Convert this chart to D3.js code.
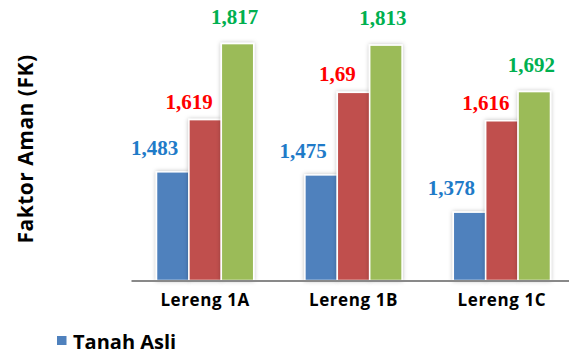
<!DOCTYPE html>
<html>
<head>
<meta charset="utf-8">
<script src="https://cdn.jsdelivr.net/npm/d3@7"></script>
<style>
  body { margin: 0; background: #fff; }
  #chart { width: 569px; height: 351px; }
</style>
</head>
<body>
<div id="chart"></div>
<script>
// data

const categories = ["Lereng 1A", "Lereng 1B", "Lereng 1C"];
const seriesNames = ["Tanah Asli", "Perkuatan 1", "Perkuatan 2"];
const tanahAsli = [1.483, 1.475, 1.378];
const perkuatan1 = [1.619, 1.69, 1.616];
const perkuatan2 = [1.817, 1.813, 1.692];
const valueLabels = [
  ["1,483", "1,475", "1,378"],
  ["1,619", "1,69", "1,616"],
  ["1,817", "1,813", "1,692"]
];

const barColors = ["#4F81BD", "#C0504D", "#9BBB59"];
const labelColors = ["#1F7BC8", "#FF0000", "#00B050"];
// label offset from the bar top centre, per series
const labelDx = [-18, -16, -3];
const labelDy = [-17, -11, -20];

const width = 569;
const height = 351;

const svg = d3.select("#chart")
  .append("svg")
  .attr("width", width)
  .attr("height", height);

// shadow filter
const defs = svg.append("defs");
const filter = defs.append("filter")
  .attr("id", "shadow")
  .attr("x", "-30%").attr("y", "-10%")
  .attr("width", "160%").attr("height", "120%");
filter.append("feDropShadow")
  .attr("dx", 0).attr("dy", 0)
  .attr("stdDeviation", 2)
  .attr("flood-color", "#000")
  .attr("flood-opacity", 0.25);

// scales

const x0 = d3.scaleBand()
  .domain(categories)
  .range([131, 576])
  .paddingInner(0.345)
  .paddingOuter(0.172);

const x1 = d3.scaleBand()
  .domain(d3.range(seriesNames.length))
  .range([0, x0.bandwidth()]);

const y = d3.scaleLinear()
  .domain([1.2, 1.9])
  .range([280.5, 11.7]);

const series = [tanahAsli, perkuatan1, perkuatan2];

// bars

const groups = svg.append("g")
  .selectAll("g")
  .data(categories)
  .join("g")
  .attr("transform", (d) => "translate(" + x0(d) + ",0)");

groups.selectAll("rect")
  .data((d, i) => series.map((s, k) => ({ k: k, v: s[i], label: valueLabels[k][i] })))
  .join("rect")
  .attr("x", (d) => x1(d.k))
  .attr("y", (d) => y(d.v))
  .attr("width", x1.bandwidth())
  .attr("height", (d) => y.range()[0] - y(d.v))
  .attr("fill", (d) => barColors[d.k])
  .attr("stroke", "#fff")
  .attr("stroke-width", 1.5)
  .attr("filter", "url(#shadow)");

groups.selectAll("text.val")
  .data((d, i) => series.map((s, k) => ({ k: k, v: s[i], label: valueLabels[k][i] })))
  .join("text")
  .attr("class", "val")
  .attr("x", (d) => x1(d.k) + x1.bandwidth() / 2 + labelDx[d.k])
  .attr("y", (d) => y(d.v) + labelDy[d.k])
  .attr("text-anchor", "middle")
  .attr("font-family", "Liberation Serif, Times New Roman, serif")
  .attr("font-weight", "bold")
  .attr("font-size", 21)
  .attr("fill", (d) => labelColors[d.k])
  .text((d) => d.label);

// x axis

const xAxis = svg.append("g")
  .attr("transform", "translate(0," + y.range()[0] + ")")
  .call(d3.axisBottom(x0).tickSize(0).tickPadding(13));

xAxis.select(".domain")
  .attr("stroke", "#898989")
  .attr("stroke-width", 2);

xAxis.selectAll("text")
  .attr("font-family", "Open Sans, sans-serif")
  .attr("font-weight", "bold")
  .attr("font-size", 17)
  .attr("letter-spacing", 0.6)
  .attr("fill", "#000");

// y title

svg.append("text")
  .attr("transform", "translate(33,149) rotate(-90)")
  .attr("text-anchor", "middle")
  .attr("font-family", "Open Sans, sans-serif")
  .attr("font-weight", "bold")
  .attr("font-size", 21)
  .attr("letter-spacing", 0.5)
  .attr("fill", "#000")
  .text("Faktor Aman (FK)");

// legend (only first item visible)

const legend = svg.append("g").attr("transform", "translate(57,336)");
legend.append("rect")
  .attr("width", 9.5)
  .attr("height", 9)
  .attr("fill", barColors[0]);
legend.append("text")
  .attr("x", 16)
  .attr("y", 13)
  .attr("font-family", "Open Sans, sans-serif")
  .attr("font-weight", "bold")
  .attr("font-size", 20)
  .attr("fill", "#000")
  .text(seriesNames[0]);
</script>
</body>
</html>
